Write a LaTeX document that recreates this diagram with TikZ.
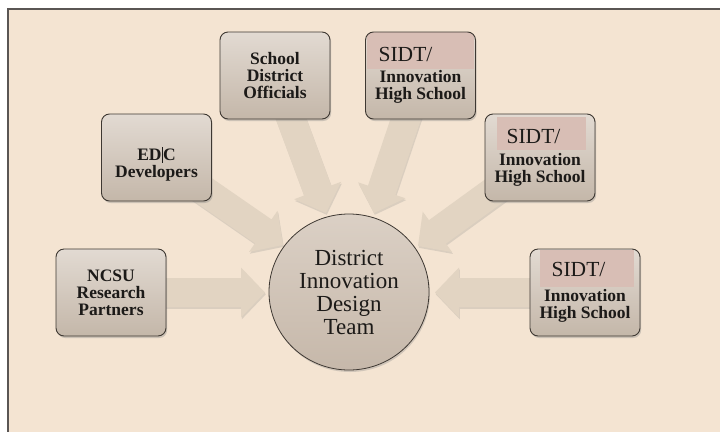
\documentclass[tikz,border=0pt]{standalone}
\usepackage{fontspec}
\setmainfont{Liberation Serif}
\usetikzlibrary{calc,shadows,shapes.geometric}

\definecolor{pagebg}{HTML}{F4E4D2}
\definecolor{frameline}{HTML}{5A5654}
\definecolor{arrowfill}{HTML}{E2D4C2}
\definecolor{boxtop}{HTML}{E2DAD2}
\definecolor{boxbot}{HTML}{C4B7A9}
\definecolor{hubtop}{HTML}{DBD0C5}
\definecolor{hubbot}{HTML}{C6B8AA}
\definecolor{boxline}{HTML}{3E3832}
\definecolor{sidtpink}{HTML}{D8BEB5}
\definecolor{ink}{HTML}{1C1A18}

\newcommand\sidtfont{\fontsize{21.5}{22}\selectfont\mdseries}

% wide block arrow from the centre of #1 to the tip point #2
\newcommand\blockarrow[2]{%
  \fill[arrowbody] let \p1=($(#2)-(#1)$), \n1={atan2(\y1,\x1)}, \n2={veclen(\x1,\y1)} in
    ([shift={(#1)},rotate=\n1]0pt,-14.5pt)
    -- ([shift={(#1)},rotate=\n1]\n2-24pt,-14.5pt)
    -- ([shift={(#1)},rotate=\n1]\n2-24pt,-25pt)
    -- ([shift={(#1)},rotate=\n1]\n2,0pt)
    -- ([shift={(#1)},rotate=\n1]\n2-24pt,25pt)
    -- ([shift={(#1)},rotate=\n1]\n2-24pt,14.5pt)
    -- ([shift={(#1)},rotate=\n1]0pt,14.5pt) -- cycle;}

\tikzset{
  unitbox/.style={rectangle, rounded corners=8pt, minimum width=110pt, minimum height=87pt,
    top color=boxtop, bottom color=boxbot, draw=boxline, line width=0.9pt, outer sep=0pt,
    align=center, text=ink, font=\fontsize{17.5}{17}\selectfont\bfseries,
    drop shadow={opacity=0.35, shadow xshift=1.2pt, shadow yshift=-2pt}},
  hub/.style={ellipse, minimum width=160pt, minimum height=156pt, inner sep=0pt,
    top color=hubtop, bottom color=hubbot, draw=boxline, line width=0.8pt,
    align=center, text=ink, font=\fontsize{23}{23}\selectfont,
    drop shadow={opacity=0.3, shadow xshift=1pt, shadow yshift=-2pt}},
  arrowbody/.style={fill=arrowfill,
    drop shadow={opacity=0.22, shadow xshift=0.8pt, shadow yshift=-1.8pt}},
  pinkband/.style args={#1/#2/#3/#4}{path picture={
    \fill[sidtpink, sharp corners] ($(path picture bounding box.north west)+(#1pt,-#3pt)$)
      rectangle ($(path picture bounding box.north east)+(-#2pt,-#4pt)$);}}
}

\begin{document}
\begin{tikzpicture}[x=1pt, y=-1pt]
  \useasboundingbox (0,0) rectangle (720,432);
  \fill[white] (0,0) rectangle (720,432);
  % page panel
  \fill[pagebg] (8,9) rectangle (720,432);
  \draw[frameline, line width=1.4pt] (720,9) -- (8,9) -- (8,432);

  % anchor points for the box centres and arrow tips
  \coordinate (cSchool) at (275,75.5);
  \coordinate (cSidtA)  at (420.5,75.5);
  \coordinate (cEdc)    at (156.5,157.5);
  \coordinate (cSidtB)  at (540,157.5);
  \coordinate (cNcsu)   at (111,292.5);
  \coordinate (cSidtC)  at (585,292.5);

  \coordinate (tSchool) at (326,213);
  \coordinate (tSidtA)  at (374,213);
  \coordinate (tEdc)    at (283,245);
  \coordinate (tSidtB)  at (418,246);
  \coordinate (tNcsu)   at (265,292.5);
  \coordinate (tSidtC)  at (435,292.5);

  % arrows first, so the boxes cover their tails
  \blockarrow{cSchool}{tSchool}
  \blockarrow{cSidtA}{tSidtA}
  \blockarrow{cEdc}{tEdc}
  \blockarrow{cSidtB}{tSidtB}
  \blockarrow{cNcsu}{tNcsu}
  \blockarrow{cSidtC}{tSidtC}

  % central team
  \node[hub] (team) at (349,292) {District\\Innovation\\Design\\Team};

  % contributing groups
  \node[unitbox] (school) at (cSchool) {School\\District\\Officials};
  \node[unitbox, pinkband={1/2/0/37}] (sidtA) at (cSidtA)
    {{\sidtfont SIDT/\hspace*{30pt}}\\[4pt]Innovation\\High School};
  \node[unitbox] (edc) at (cEdc)
    {\mbox{}\\[9pt]ED\kern0.4pt\rule[-2.5pt]{0.7pt}{16pt}\kern0.4pt C\\Developers};
  \node[unitbox, pinkband={12/9/3/36}] (sidtB) at (cSidtB)
    {{\sidtfont SIDT/\hspace*{13pt}}\\[5pt]Innovation\\High School};
  \node[unitbox] (ncsu) at (cNcsu) {NCSU\\Research\\Partners};
  \node[unitbox, pinkband={10/6/1/38}] (sidtC) at (cSidtC)
    {{\sidtfont SIDT/\hspace*{13pt}}\\[8pt]Innovation\\High School};
\end{tikzpicture}
\end{document}
